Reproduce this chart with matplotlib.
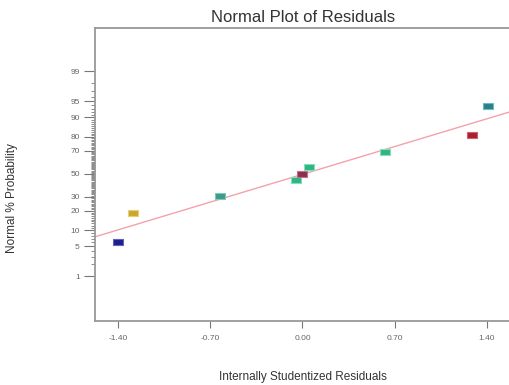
import numpy as np
import matplotlib
matplotlib.use("Agg")
import matplotlib.pyplot as plt
from statistics import NormalDist

# ---- data ----
resid = [-1.40, -1.286, -0.624, -0.046, 0.0, 0.053, 0.63, 1.29, 1.405]
prob = [6.1, 18.8, 30.9, 44.6, 50.0, 56.3, 69.0, 81.0, 93.9]
colors = ['#1e1e8c', '#c9a632', '#3f9a88', '#2fb486', '#8c2f4f', '#2fb486', '#2fb486', '#a8202e', '#2a8088']
edges = ['#6060c0', '#e8d070', '#80c8b8', '#80e0b8', '#c07090', '#80e0b8', '#80e0b8', '#d06070', '#70b8c0']
line_intercept = -0.011   # z units
line_slope = 0.9006       # z per residual
x_ticks = [-1.40, -0.70, 0.00, 0.70, 1.40]
x_ticklabels = ['-1.40', '-0.70', '0.00', '0.70', '1.40']
y_ticks = [1, 5, 10, 20, 30, 50, 70, 80, 90, 95, 99]
y_minor = [2, 3, 4, 6, 7, 8, 9] + [v for v in range(11, 90) if v not in y_ticks] + [91, 92, 93, 94, 96, 97, 98]

nd = NormalDist()
_ppf = np.vectorize(lambda p: nd.inv_cdf(min(max(p, 1e-10), 1 - 1e-10)))
_cdf = np.vectorize(lambda z: nd.cdf(z))


def fwd(p):
    p = np.asarray(p, dtype=float)
    return _ppf(p / 100.0)


def inv(z):
    z = np.asarray(z, dtype=float)
    return _cdf(z) * 100.0


plt.rcParams['font.family'] = ['Liberation Sans', 'DejaVu Sans']

fig = plt.figure(figsize=(5.10, 3.85), dpi=100)
ax = fig.add_axes([95 / 510, 1 - 321 / 385, 1 - 95 / 510, (321 - 28) / 385])
ax.set_yscale('function', functions=(fwd, inv))

# fitted line
xl = np.linspace(-1.575, 1.575, 200)
ax.plot(xl, inv(line_intercept + line_slope * xl), color='#f4a2aa', lw=1.0, zorder=2)

# rectangular markers
rect = [(-1, -0.62), (1, -0.62), (1, 0.62), (-1, 0.62), (-1, -0.62)]
for x, y, c, e in zip(resid, prob, colors, edges):
    ax.plot([x], [y], linestyle='none', marker=rect, markersize=7.5,
            markerfacecolor=c, markeredgecolor=e, markeredgewidth=0.8, zorder=3)

ax.set_xlim(-1.575, 1.575)
ax.set_ylim(inv(-3.34), inv(3.31))

ax.set_xticks(x_ticks)
ax.set_xticklabels(x_ticklabels)
ax.set_yticks(y_ticks)
ax.set_yticklabels([str(v) for v in y_ticks])
ax.set_yticks(y_minor, minor=True)
ax.set_xticks([], minor=True)

ax.tick_params(axis='y', which='major', length=8, width=0.8, color='#777777',
               labelsize=6, labelcolor='#666666', pad=3)
ax.tick_params(axis='y', which='minor', length=3, width=0.6, color='#777777')
ax.tick_params(axis='x', which='major', length=5, width=0.8, color='#777777',
               labelsize=6, labelcolor='#666666', pad=5)

ax.spines['right'].set_visible(False)
for s in ['left', 'top', 'bottom']:
    ax.spines[s].set_color('#999999')
    ax.spines[s].set_linewidth(1.3)

fig.text(303 / 510, 1 - 18 / 385, 'Normal Plot of Residuals', ha='center', va='center',
         fontsize=12, color='#333333')
fig.text(303 / 510, 1 - 377 / 385, 'Internally Studentized Residuals', ha='center', va='center',
         fontsize=8.5, color='#333333')
fig.text(12 / 510, 1 - 198 / 385, 'Normal % Probability', ha='center', va='center',
         rotation=90, fontsize=8.5, color='#333333')

fig.savefig('out.png', dpi=100)
